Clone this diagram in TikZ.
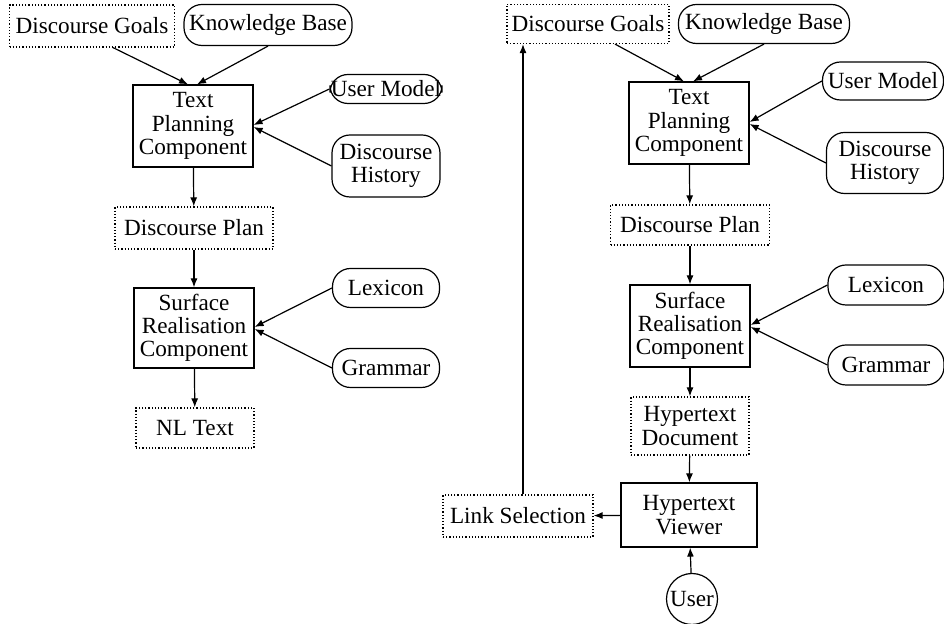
\documentclass[tikz,border=0pt]{standalone}
\usepackage{fontspec}
\setmainfont{Liberation Serif}
\usetikzlibrary{arrows.meta}

\tikzset{
  comp/.style={draw, line width=0.6pt, align=center, inner sep=0pt},
  data/.style={draw, densely dotted, line width=0.6pt, align=center, inner sep=0pt},
  store/.style={draw, line width=0.6pt, rounded corners=9pt, align=center, inner sep=0pt},
  flow/.style={-{Latex[length=4.5pt,width=3.5pt]}, line width=0.6pt}
}

\begin{document}
\begin{tikzpicture}[x=0.5pt, y=-0.5pt, font=\fontsize{11.6}{11.6}\selectfont]

        \useasboundingbox (0, 0) rectangle (944, 624);

        % left: text generation
        \node[data, minimum width=82.5pt, minimum height=21pt] (goalsL) at (92, 26) {Discourse Goals};
        \node[store, minimum width=84pt, minimum height=20.5pt] (kbL) at (268, 25) {Knowledge Base};
        \node[comp, minimum width=60pt, minimum height=41pt] (tpcL) at (193, 126) {Text\\Planning\\Component};
        \node[store, minimum width=56pt, minimum height=14.5pt] (umL) at (386, 89) {User Model};
        \node[store, minimum width=54pt, minimum height=31pt] (dhL) at (386, 166) {Discourse\\History};
        \node[data, minimum width=79pt, minimum height=21pt] (planL) at (194, 228) {Discourse Plan};
        \node[comp, minimum width=60pt, minimum height=40pt] (srcL) at (194, 328) {Surface\\Realisation\\Component};
        \node[store, minimum width=53.5pt, minimum height=19.5pt] (lexL) at (386, 288) {Lexicon};
        \node[store, minimum width=53.5pt, minimum height=19.5pt] (gramL) at (386, 368) {Grammar};
        \node[data, minimum width=59pt, minimum height=20pt] (nlL) at (195, 428) {NL Text};

        \draw[flow] ([xshift=10.5pt]goalsL.south) -- ([xshift=-2.5pt]tpcL.north);
        \draw[flow] (kbL.south) -- ([xshift=2pt]tpcL.north);
        \draw[flow] (umL.west) -- ([yshift=0.5pt]tpcL.east);
        \draw[flow] (dhL.west) -- ([yshift=-0.5pt]tpcL.east);
        \draw[flow] (tpcL) -- (planL);
        \draw[flow] (planL) -- (srcL);
        \draw[flow] (lexL.west) -- ([yshift=0.5pt]srcL.east);
        \draw[flow] (gramL.west) -- ([yshift=-0.5pt]srcL.east);
        \draw[flow] (srcL) -- (nlL);

        % right: hypertext generation
        \node[data, minimum width=81pt, minimum height=19.5pt] (goalsR) at (588, 24) {Discourse Goals};
        \node[store, minimum width=85.5pt, minimum height=19.5pt] (kbR) at (764, 24) {Knowledge Base};
        \node[comp, minimum width=60pt, minimum height=41pt] (tpcR) at (689, 123) {Text\\Planning\\Component};
        \node[store, minimum width=60.5pt, minimum height=19pt] (umR) at (883, 81) {User Model};
        \node[store, minimum width=58.5pt, minimum height=30.5pt] (dhR) at (885, 163) {Discourse\\History};
        \node[data, minimum width=79.5pt, minimum height=20pt] (planR) at (690, 225) {Discourse Plan};
        \node[comp, minimum width=60pt, minimum height=41pt] (srcR) at (690, 326) {Surface\\Realisation\\Component};
        \node[store, minimum width=58pt, minimum height=20pt] (lexR) at (886, 285) {Lexicon};
        \node[store, minimum width=58pt, minimum height=20pt] (gramR) at (886, 365) {Grammar};
        \node[data, minimum width=59pt, minimum height=29pt] (hdocR) at (690, 426) {Hypertext\\Document};
        \node[comp, minimum width=68pt, minimum height=32pt] (hviewR) at (689, 515) {Hypertext\\Viewer};
        \node[data, minimum width=75pt, minimum height=21pt] (linkR) at (518, 516) {Link Selection};
        \node[draw, circle, line width=0.6pt, minimum size=25.5pt, inner sep=0pt] (userR) at (692, 599) {User};

        \draw[flow] ([xshift=13.5pt]goalsR.south) -- ([xshift=-2.5pt]tpcR.north);
        \draw[flow] (kbR.south) -- ([xshift=2pt]tpcR.north);
        \draw[flow] (umR.west) -- ([yshift=0.5pt]tpcR.east);
        \draw[flow] (dhR.west) -- ([yshift=-0.5pt]tpcR.east);
        \draw[flow] (tpcR) -- (planR);
        \draw[flow] (planR) -- (srcR);
        \draw[flow] (lexR.west) -- ([yshift=0.5pt]srcR.east);
        \draw[flow] (gramR.west) -- ([yshift=-0.5pt]srcR.east);
        \draw[flow] (srcR) -- (hdocR);
        \draw[flow] (hdocR) -- (hviewR);
        \draw[flow] (userR) -- (hviewR);
        \draw[flow] (hviewR) -- (linkR);
        \draw[flow] ([xshift=2.5pt]linkR.north) -- ([xshift=2.5pt]linkR.north |- goalsR.south);

\end{tikzpicture}
\end{document}
